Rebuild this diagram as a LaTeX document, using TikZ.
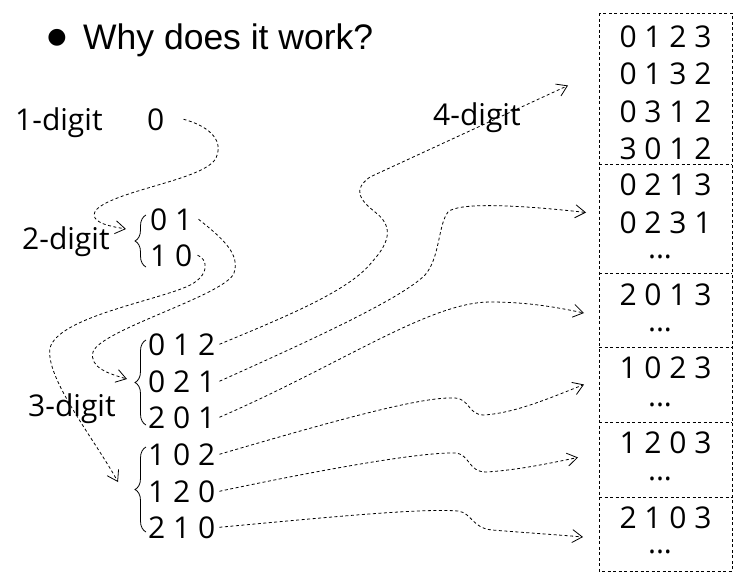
\documentclass[tikz,border=0pt]{standalone}
\usepackage{fontspec}
\setmainfont{Open Sans}
\newfontfamily\titlefont{Liberation Sans}
\newfontfamily\symfont{DejaVu Sans}
\usetikzlibrary{positioning, arrows.meta, decorations.pathreplacing}

\tikzset{
  digits/.style={inner sep=0pt, anchor=base, font=\fontsize{30}{36}\selectfont},
  section/.style={rectangle, inner sep=0pt, outer sep=0pt, minimum width=133pt, anchor=north},
  boxline/.style={draw, line width=0.8pt, dash pattern=on 3pt off 2.5pt},
  link/.style={draw, line width=0.8pt, dash pattern=on 3pt off 2.5pt, -{Straight Barb[length=10pt,width=13pt]}},
  curly/.style={draw, line width=0.8pt, decorate, decoration={brace, amplitude=11pt}}
}

\begin{document}
\begin{tikzpicture}[x=1pt, y=-1pt]
\useasboundingbox (0,0) rectangle (742,581);

% Heading
\node[inner sep=0pt, font=\symfont\fontsize{22}{26}\selectfont] (dot) at (57,38) {●};
\node[anchor=base west, inner sep=0pt, font=\titlefont\fontsize{35.5}{40}\selectfont] (title) at (83,49) {Why does it work?};

% Level names
\node[digits, anchor=base west] (lab1) at (15,130) {1-digit};
\node[digits, anchor=base west] (lab2) at (22,249) {2-digit};
\node[digits, anchor=base west] (lab3) at (28,416) {3-digit};
\node[digits, anchor=base west] (lab4) at (433,125) {4-digit};

% Shorter permutations
\node[digits, anchor=base west] (zero) at (147,130) {0};
\node[digits, anchor=base west] (r01) at (150,230) {0 1};
\node[digits, anchor=base west] (r10) at (150,266) {1 0};
\foreach \txt/\yb/\nm in {0 1 2/355/a, 0 2 1/392/b, 2 0 1/428/c, 1 0 2/465/d, 1 2 0/502/e, 2 1 0/538/f}
    \node[digits, anchor=base west] (t\nm) at (148,\yb) {\txt};

% Braces
\draw[curly] (146,267) -- (146,215);
\draw[curly] (146,425) -- (146,340);
\draw[curly] (146,532) -- (146,447);

% 4-digit column, one section per 3-digit row
\foreach \nm/\ytop/\hgt in {1/13/151, 2/164/109, 3/273/74, 4/347/75, 5/422/75, 6/497/74}
    \node[section, minimum height=\hgt pt] (s\nm) at (665.5,\ytop) {};
\draw[boxline] (s1.north west) rectangle (s6.south east);
\foreach \i in {1,...,5}
    \draw[boxline] (s\i.south west) -- (s\i.south east);

\foreach \txt/\yb [count=\i] in {0 1 2 3/47, 0 1 3 2/84, 0 3 1 2/122, 3 0 1 2/159, 0 2 1 3/195, 0 2 3 1/233, 2 0 1 3/305, 1 0 2 3/378, 1 2 0 3/453, 2 1 0 3/528}
    \node[digits] (q\i) at (665.5,\yb) {\txt};
\foreach \yb [count=\i] in {258, 331, 406, 480, 553}
    \node[digits] (more\i) at (660,\yb) {...};

% Insertion arrows
\coordinate (to2) at (126,229);
\coordinate (to3a) at (127,379);
\coordinate (to3b) at (118,482);

\draw[link] ([xshift=19pt]zero.east) .. controls (205,125) and (225,138) .. (216,158)
    .. controls (205,180) and (115,190) .. (96,210) .. controls (88,222) and (108,226) .. (to2);
\draw[link] ([xshift=6pt]r01.east) .. controls (225,240) and (240,255) .. (234,273)
    .. controls (226,295) and (100,330) .. (93,352) .. controls (89,368) and (110,374) .. (to3a);
\draw[link] ([xshift=5pt]r10.east) .. controls (207,258) and (212,276) .. (186,287)
    .. controls (150,302) and (58,318) .. (50,348) .. controls (45,378) and (95,440) .. (to3b);

\draw[link] ([xshift=4pt]ta.east) .. controls (290,315) and (350,290) .. (372,262)
    .. controls (392,240) and (392,225) .. (375,212) .. controls (360,200) and (352,190) .. (370,177)
    -- ([shift={(-31,-3)}]s1.west);
\draw[link] ([xshift=4pt]tb.east) .. controls (300,345) and (400,300) .. (425,275)
    .. controls (440,258) and (438,225) .. (448,212) .. controls (458,202) and (520,205) .. ([shift={(-13,-6)}]s2.west);
\draw[link] ([xshift=4pt]tc.east) .. controls (340,365) and (430,302) .. (490,302)
    .. controls (530,302) and (560,308) .. ([shift={(-15,3)}]s3.west);
\draw[link] ([xshift=4pt]td.east) .. controls (320,425) and (420,396) .. (455,398)
    .. controls (470,399) and (468,415) .. (484,415) .. controls (515,413) and (550,398) .. ([xshift=-15pt]s4.west);
\draw[link] ([xshift=4pt]te.east) .. controls (320,470) and (420,452) .. (455,453)
    .. controls (470,454) and (468,472) .. (486,472) .. controls (520,470) and (555,462) .. ([shift={(-21,-2)}]s5.west);
\draw[link] ([xshift=4pt]tf.east) .. controls (320,518) and (420,508) .. (458,511)
    .. controls (472,513) and (472,528) .. (492,530) .. controls (530,533) and (560,535) .. ([shift={(-16,3)}]s6.west);

\end{tikzpicture}
\end{document}
